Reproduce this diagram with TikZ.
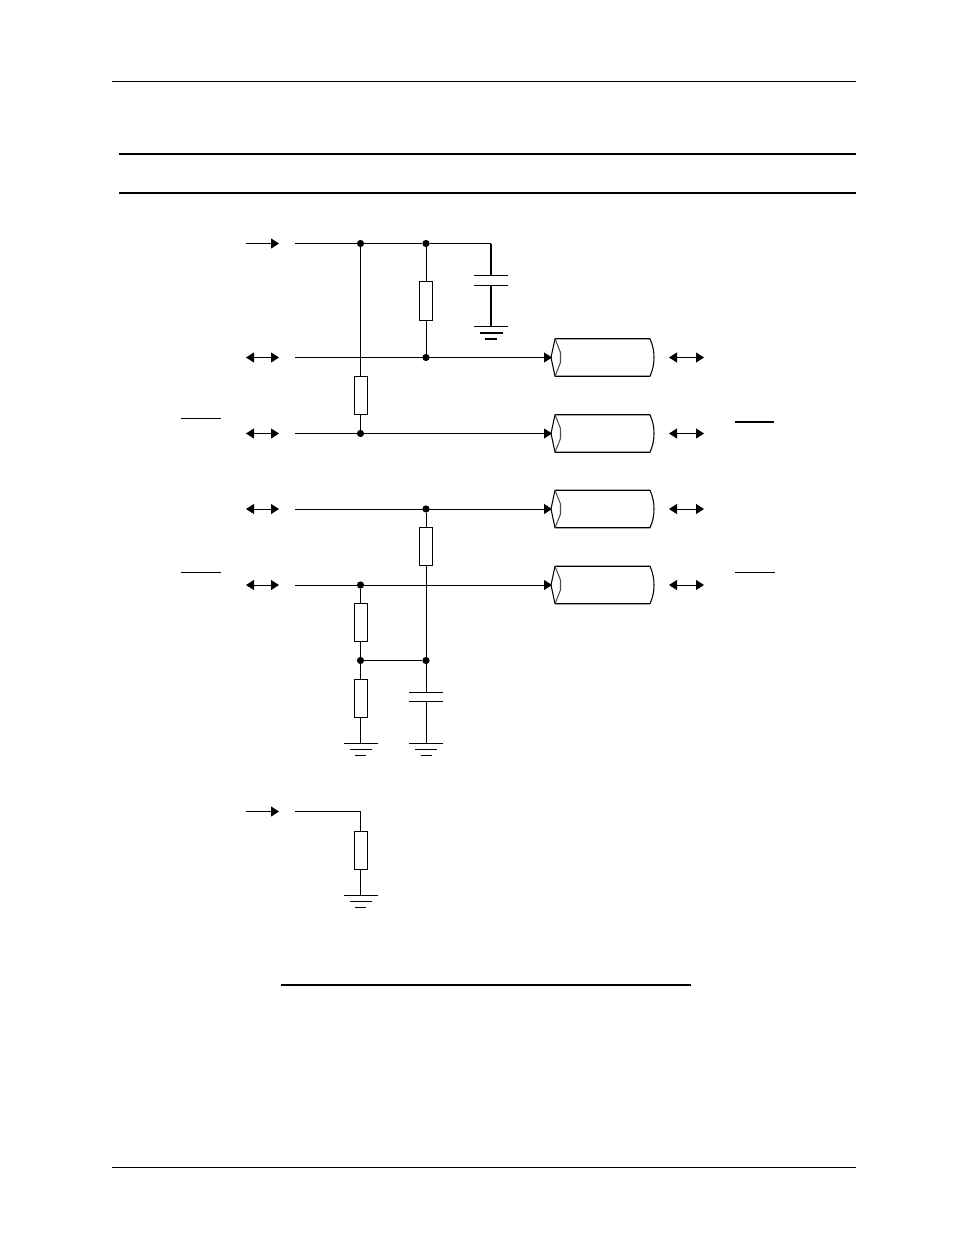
\documentclass[tikz,border=0pt]{standalone}
\usetikzlibrary{arrows.meta}
\tikzset{
  wire/.style={line width=0.7pt,black},
  thick rule/.style={line width=1.8pt,black},
  thin rule/.style={line width=0.7pt,black},
  signal/.style={wire,-{Triangle[length=6pt,width=7.5pt]}},
  bidir/.style={wire,{Triangle[length=6pt,width=7.5pt]}-{Triangle[length=6pt,width=7.5pt]}},
  res/.style={draw,line width=0.7pt,fill=white,rectangle,inner sep=0pt,minimum width=9.75pt,minimum height=28.5pt},
  dot/.style={circle,fill=black,inner sep=0pt,minimum size=5.4pt},
  gnd/.pic={
    \draw[wire] (-17,0) -- (17,0);
    \draw[wire] (-11,6) -- (11,6);
    \draw[wire] (-5.5,12.5) -- (5.5,12.5);
  },
  gndheavy/.pic={
    \draw[wire] (-17,0) -- (17,0);
    \draw[line width=1.5pt] (-11.5,6.5) -- (11.5,6.5);
    \draw[line width=1.5pt] (-6,13) -- (6,13);
  },
  capacitor/.pic={
    \draw[wire] (-17,0) -- (17,0);
    \draw[wire] (-17,9.5) -- (17,9.5);
    \coordinate (-a) at (0,0);
    \coordinate (-b) at (0,9.5);
  },
  cable/.pic={
    \draw[line width=0.8pt,fill=white,line join=round]
      (0,-18.75) -- (95,-18.75) .. controls (98,-12) and (99,-6) .. (99,0)
      .. controls (99,6) and (98,12) .. (95,18.75) -- (0,18.75)
      -- (-4,0) -- cycle;
    \draw[line width=0.8pt,black!70] (0,-18.75) -- (5.5,-5) -- (5.5,5) -- (0,18.75);
    \coordinate (-in) at (-3,0);
  },
}
\begin{document}
\begin{tikzpicture}[x=0.75pt,y=-0.75pt]
\useasboundingbox (0,0) rectangle (954,1235);
% page rules
\coordinate (topL) at (112,81.5); \coordinate (topR) at (856,81.5);
\coordinate (botL) at (112,1167.5); \coordinate (botR) at (856,1167.5);
\coordinate (h1L) at (119,154); \coordinate (h1R) at (856,154);
\coordinate (h2L) at (119,193); \coordinate (h2R) at (856,193);
\coordinate (capL) at (281,985); \coordinate (capR) at (691,985);
\draw[thin rule] (topL) -- (topR);
\draw[thin rule] (botL) -- (botR);
\draw[thick rule] (h1L) -- (h1R);
\draw[thick rule] (h2L) -- (h2R);
\draw[thick rule] (capL) -- (capR);
% overbars
\coordinate (o1a) at (181,418); \coordinate (o1b) at (221,418);
\coordinate (o2a) at (181,572); \coordinate (o2b) at (221,572);
\coordinate (o3a) at (735,422); \coordinate (o3b) at (774,422);
\coordinate (o4a) at (735,572); \coordinate (o4b) at (775,572);
\draw[thin rule] (o1a) -- (o1b);
\draw[thin rule] (o2a) -- (o2b);
\draw[line width=1.4pt] (o3a) -- (o3b);
\draw[thin rule] (o4a) -- (o4b);
% left stubs
\foreach \n/\y in {s1/243.5,s5/811.5}{
  \coordinate (\n a) at (246,\y); \coordinate (\n b) at (279,\y);
  \draw[signal] (\n a) -- (\n b);
}
\foreach \n/\y in {s2/357.5,s3/433.5,s4/509,s6/585}{
  \coordinate (\n a) at (246,\y); \coordinate (\n b) at (279,\y);
  \draw[bidir] (\n a) -- (\n b);
}
% right stubs
\foreach \n/\y in {r1/357.5,r2/433.5,r3/509,r4/585}{
  \coordinate (\n a) at (669,\y); \coordinate (\n b) at (704,\y);
  \draw[bidir] (\n a) -- (\n b);
}
% cables
\pic (c1) at (555,357.5) {cable};
\pic (c2) at (555,433.5) {cable};
\pic (c3) at (555,509) {cable};
\pic (c4) at (555,585) {cable};
% wire starts
\coordinate (w1) at (295,243.5);
\coordinate (w2) at (295,357.5);
\coordinate (w3) at (295,433.5);
\coordinate (w4) at (295,509);
\coordinate (w6) at (295,585);
\coordinate (w5) at (295,811.5);
% junctions
\node[dot] (j1) at (360.5,243.5) {};
\node[dot] (j2) at (426,243.5) {};
\node[dot] (j3) at (426,357.5) {};
\node[dot] (j4) at (360.5,433.5) {};
\node[dot] (j5) at (426,509) {};
\node[dot] (j6) at (360.5,585) {};
\node[dot] (j7) at (360.5,660.5) {};
\node[dot] (j8) at (426,660.5) {};
\coordinate (corner1) at (491,243.5);
\coordinate (corner2) at (360.5,811.5);
% resistors
\node[res,minimum height=29.25pt] (R1) at (426,300.5) {};
\node[res] (R2) at (360.5,395) {};
\node[res] (R3) at (426,546.5) {};
\node[res] (R4) at (360.5,622) {};
\node[res] (R5) at (360.5,698) {};
\node[res] (R6) at (360.5,850) {};
% capacitors and grounds
\pic (C1) at (491,275.5) {capacitor};
\pic (C2) at (426,692) {capacitor};
\pic (G1) at (491,326) {gndheavy};
\pic (G2) at (360.5,743) {gnd};
\pic (G3) at (426,743) {gnd};
\pic (G4) at (360.5,895) {gnd};
\coordinate (g1) at (491,326);
\coordinate (g2) at (360.5,743);
\coordinate (g3) at (426,743);
\coordinate (g4) at (360.5,895);
% upper circuit
\draw[wire] (w1) -- (j1) -- (j2) -- (corner1);
\draw[line width=1.4pt] (corner1) -- (C1-a);
\draw[line width=1.4pt] (C1-b) -- (g1);
\draw[wire] (j1) -- (R2);
\draw[wire] (R2) -- (j4);
\draw[wire] (j2) -- (R1);
\draw[wire] (R1) -- (j3);
\draw[signal] (w2) -- (c1-in);
\draw[signal] (w3) -- (c2-in);
% lower circuit
\draw[signal] (w4) -- (c3-in);
\draw[signal] (w6) -- (c4-in);
\draw[wire] (j5) -- (R3);
\draw[wire] (R3) -- (j8);
\draw[wire] (j6) -- (R4);
\draw[wire] (R4) -- (j7);
\draw[wire] (j7) -- (R5);
\draw[wire] (R5) -- (g2);
\draw[wire] (j7) -- (j8);
\draw[wire] (j8) -- (C2-a);
\draw[wire] (C2-b) -- (g3);
% bottom branch
\draw[wire] (w5) -- (corner2) -- (R6);
\draw[wire] (R6) -- (g4);
\end{tikzpicture}
\end{document}
